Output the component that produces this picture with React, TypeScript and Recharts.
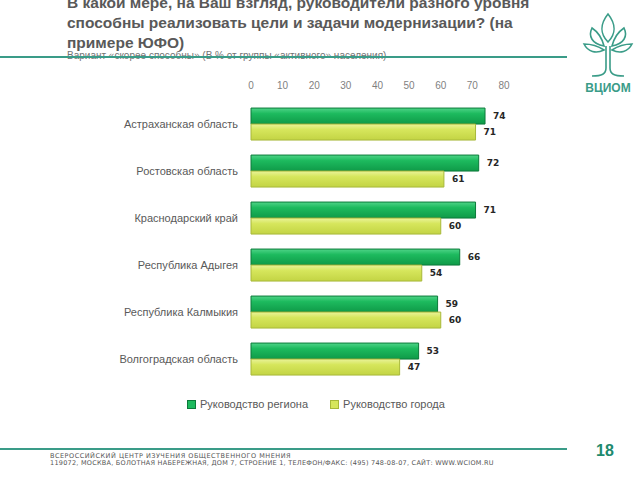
import React from "react";
import { BarChart, Bar, XAxis, YAxis, LabelList } from "recharts";

const regions = [
  "Астраханская область",
  "Ростовская область",
  "Краснодарский край",
  "Республика Адыгея",
  "Республика Калмыкия",
  "Волгоградская область",
];
const regionLeaders = [74, 72, 71, 66, 59, 53];
const cityLeaders = [71, 61, 60, 54, 60, 47];
const xTicks = [0, 10, 20, 30, 40, 50, 60, 70, 80];
const seriesNames = ["Руководство региона", "Руководство города"];

const data = regions.map((name, i) => ({
  name,
  region: regionLeaders[i],
  city: cityLeaders[i],
}));

const TEAL = "#3a9c88";
const TEXT = "#595959";

function Logo() {
  // decorative tree mark
  return (
    <svg width={60} height={92} style={{ position: "absolute", left: 578, top: 4 }}>
      <g fill="none" stroke={TEAL} strokeWidth={1.6}>
        <path d="M30 10 C22 20 22 30 30 38 C38 30 38 20 30 10 Z" />
        <path d="M14 24 C10 32 14 40 26 42 C24 34 20 28 14 24 Z" />
        <path d="M46 24 C50 32 46 40 34 42 C36 34 40 28 46 24 Z" />
        <path d="M6 40 C10 48 18 50 26 46 C20 42 12 40 6 40 Z" />
        <path d="M54 40 C50 48 42 50 34 46 C40 42 48 40 54 40 Z" />
        <path d="M28 42 L28 64 C28 70 24 72 14 72" />
        <path d="M32 42 L32 64 C32 70 36 72 46 72" />
      </g>
      <text x={30} y={88} textAnchor="middle" fill={TEAL} fontSize={12} fontFamily="Liberation Sans, Arial" fontWeight="bold">
        ВЦИОМ
      </text>
    </svg>
  );
}

export default function App() {
  return (
    <div style={{ position: "absolute", left: 0, top: 0, width: 640, height: 480, background: "#fff", overflow: "hidden", fontFamily: "'Liberation Sans', Arial, sans-serif" }}>
      <div style={{ position: "absolute", left: 67, top: -7, fontSize: 15.5, fontWeight: "bold", lineHeight: "20px", color: TEXT, whiteSpace: "nowrap" }}>
        В какой мере, на Ваш взгляд, руководители разного уровня<br />
        способны реализовать цели и задачи модернизации? (на<br />
        примере ЮФО)
      </div>
      <div style={{ position: "absolute", left: 67, top: 50, fontSize: 10, color: "#737373", whiteSpace: "nowrap" }}>
        Вариант «скорее способны» (В % от группы «активного» населения)
      </div>
      <div style={{ position: "absolute", left: 0, top: 56, width: 567, height: 2, background: TEAL }} />
      <Logo />

      <div style={{ position: "absolute", left: 0, top: 0 }}>
        <BarChart
          width={640}
          height={480}
          data={data}
          layout="vertical"
          margin={{ top: 71, right: 136, bottom: 97, left: 0 }}
          barCategoryGap="15%"
          barGap={0}
        >
          <defs>
            <linearGradient id="gGreen" x1="0" y1="0" x2="0" y2="1">
              <stop offset="0%" stopColor="#4fd488" />
              <stop offset="35%" stopColor="#1dba5e" />
              <stop offset="100%" stopColor="#0f9a48" />
            </linearGradient>
            <linearGradient id="gLime" x1="0" y1="0" x2="0" y2="1">
              <stop offset="0%" stopColor="#eaf39a" />
              <stop offset="35%" stopColor="#d6e65c" />
              <stop offset="100%" stopColor="#c3d444" />
            </linearGradient>
          </defs>
          <XAxis
            type="number"
            orientation="top"
            domain={[0, 80]}
            ticks={xTicks}
            axisLine={false}
            tickLine={false}
            tickMargin={6}
            tick={{ fill: "#7f7f7f", fontSize: 10 }}
            height={30}
          />
          <YAxis
            type="category"
            dataKey="name"
            width={251}
            axisLine={false}
            tickLine={false}
            tickMargin={7}
            tick={{ fill: TEXT, fontSize: 11 }}
          />
          <Bar dataKey="region" name={seriesNames[0]} fill="url(#gGreen)" stroke="#0c7a3a" strokeWidth={1} isAnimationActive={false}>
            <LabelList dataKey="region" position="right" offset={8} style={{ fill: "#262626", fontSize: 9, fontWeight: "bold", fontFamily: "DejaVu Sans" }} />
          </Bar>
          <Bar dataKey="city" name={seriesNames[1]} fill="url(#gLime)" stroke="#a8b83a" strokeWidth={1} isAnimationActive={false}>
            <LabelList dataKey="city" position="right" offset={8} style={{ fill: "#262626", fontSize: 9, fontWeight: "bold", fontFamily: "DejaVu Sans" }} />
          </Bar>
        </BarChart>
      </div>

      <div style={{ position: "absolute", left: 187, top: 398, display: "flex", alignItems: "center", fontSize: 11, color: TEXT, whiteSpace: "nowrap" }}>
        <span style={{ display: "inline-block", width: 7, height: 7, background: "#1dba5e", border: "1px solid #0c7a3a", marginRight: 4 }} />
        <span>{seriesNames[0]}</span>
        <span style={{ display: "inline-block", width: 7, height: 7, background: "#d6e65c", border: "1px solid #a8b83a", marginLeft: 22, marginRight: 4 }} />
        <span>{seriesNames[1]}</span>
      </div>

      <div style={{ position: "absolute", left: 0, top: 448, width: 567, height: 2, background: TEAL }} />
      <div style={{ position: "absolute", left: 596, top: 442, fontSize: 16, fontWeight: "bold", color: "#1e8a6e" }}>18</div>
      <div style={{ position: "absolute", left: 50, top: 453, fontSize: 6.5, lineHeight: "7px", color: "#555", fontFamily: "'DejaVu Sans', sans-serif", whiteSpace: "nowrap" }}>
        <div style={{ letterSpacing: 0.5 }}>ВСЕРОССИЙСКИЙ ЦЕНТР ИЗУЧЕНИЯ ОБЩЕСТВЕННОГО МНЕНИЯ</div>
        <div style={{ letterSpacing: 0.25 }}>119072, МОСКВА, БОЛОТНАЯ НАБЕРЕЖНАЯ, ДОМ 7, СТРОЕНИЕ 1, ТЕЛЕФОН/ФАКС: (495) 748-08-07, САЙТ: WWW.WCIOM.RU</div>
      </div>
    </div>
  );
}
